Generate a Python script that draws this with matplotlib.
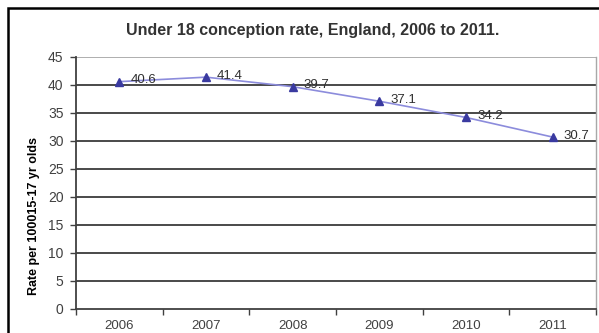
import matplotlib.pyplot as plt
from matplotlib.patches import Rectangle
import numpy as np

years = ['2006', '2007', '2008', '2009', '2010', '2011']
rates = [40.6, 41.4, 39.7, 37.1, 34.2, 30.7]

plt.rcParams['font.family'] = ['Liberation Sans', 'DejaVu Sans']

fig = plt.figure(figsize=(5.99, 3.33), dpi=100)
ax = fig.add_axes([76 / 599, 1 - 309 / 333, (596 - 76) / 599, (309 - 57) / 333])

x = np.arange(len(years))
ax.plot(x, rates, color='#8c8cdc', lw=1.2, zorder=3)
ax.plot(x, rates, ls='none', marker='^', ms=5.5, color='#3a3aa0', zorder=4)
for xi, r in zip(x, rates):
    ax.annotate(f'{r}', (xi, r), xytext=(8, 1), textcoords='offset points',
                fontsize=9.5, color='#303030', va='center', ha='left', zorder=5)

ax.set_xlim(-0.5, len(years) - 0.5)
ax.set_ylim(0, 45)
ax.set_yticks(range(0, 46, 5))
ax.set_xticks(x)
ax.set_xticklabels(years)
ax.set_xticks(np.arange(-0.5, len(years)), minor=True)
ax.tick_params(axis='x', which='major', length=0, pad=8, labelsize=9.5, labelcolor='#404040')
ax.tick_params(axis='x', which='minor', length=4, width=1, color='#404040', direction='out')
ax.tick_params(axis='y', length=4, width=1, color='#404040', labelsize=10,
               labelcolor='#404040', pad=5)

for v in range(5, 45, 5):
    ax.axhline(v, color='#3a3a3a', lw=1.3, zorder=1)
ax.axhline(45, color='#a8a8a8', lw=1.3, zorder=1)

for side in ['left', 'bottom']:
    ax.spines[side].set_color('#404040')
    ax.spines[side].set_linewidth(1.3)
ax.spines['top'].set_visible(False)
ax.spines['right'].set_color('#a8a8a8')
ax.spines['right'].set_linewidth(1.0)

ax.set_ylabel('Rate per 100015-17 yr olds', fontsize=9, fontweight='bold')
ax.yaxis.set_label_coords(-0.07, 0.37)
fig.text(313 / 599, 1 - 30 / 333, 'Under 18 conception rate, England, 2006 to 2011.',
         ha='center', va='center', fontsize=11.5, fontweight='bold', color='#333333')

# chart frame
fig.patches.append(Rectangle((8 / 599, -0.2), 2, 1 - 8 / 333 + 0.2,
                             transform=fig.transFigure, fill=False,
                             edgecolor='black', lw=1.8))

fig.savefig('out.png', dpi=100)
